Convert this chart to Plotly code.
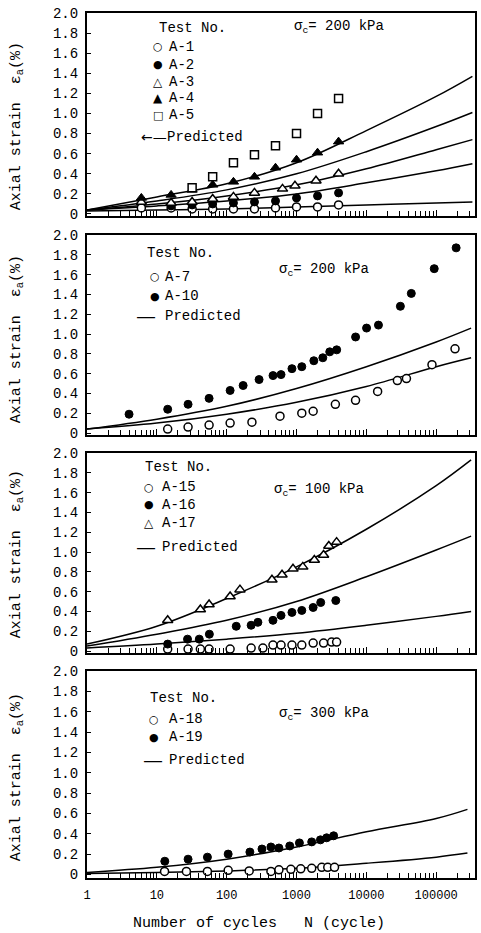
import plotly.graph_objects as go

FONT = "Liberation Mono, DejaVu Sans Mono, monospace"
GLYPH_FONT = "DejaVu Sans"
TICK_COLOR = "black"

# ---------------- data ----------------
PRED_N_A = [1, 10, 100, 1000, 10000, 100000, 330000]
PRED_N_B = [1, 10, 100, 1000, 10000, 100000, 316000]
PRED_N_D = [1, 10, 100, 1000, 10000, 100000, 280000]

a1_n = [6, 16, 32, 63, 125, 250, 500, 1000, 2000, 4000]
a1_e = [0.06, 0.06, 0.05, 0.05, 0.05, 0.05, 0.06, 0.07, 0.07, 0.09]
a2_n = [16, 32, 63, 125, 250, 500, 1000, 2000, 4000]
a2_e = [0.08, 0.09, 0.10, 0.11, 0.12, 0.13, 0.16, 0.18, 0.21]
a3_n = [6, 16, 32, 63, 125, 250, 630, 950, 1900, 4000]
a3_e = [0.12, 0.11, 0.12, 0.15, 0.17, 0.21, 0.25, 0.28, 0.33, 0.40]
a4_n = [6, 16, 32, 63, 125, 250, 500, 1000, 2000, 4000]
a4_e = [0.16, 0.19, 0.24, 0.29, 0.32, 0.37, 0.46, 0.54, 0.61, 0.72]
a5_n = [32, 63, 125, 250, 500, 1000, 2000, 4000]
a5_e = [0.26, 0.37, 0.51, 0.59, 0.68, 0.80, 1.00, 1.15]
p1_pred = [
    [0.04, 0.17, 0.30, 0.51, 0.83, 1.17, 1.37],
    [0.04, 0.13, 0.24, 0.40, 0.62, 0.87, 1.01],
    [0.04, 0.10, 0.18, 0.29, 0.45, 0.64, 0.74],
    [0.04, 0.08, 0.13, 0.20, 0.31, 0.43, 0.50],
    [0.03, 0.04, 0.05, 0.07, 0.09, 0.11, 0.12],
]

a7_n = [14.3, 28, 56, 112, 230, 580, 1190, 1730, 3600, 7000, 14500, 27800, 37500, 87000, 186000]
a7_e = [0.04, 0.06, 0.08, 0.10, 0.11, 0.17, 0.20, 0.22, 0.29, 0.33, 0.42, 0.53, 0.55, 0.69, 0.85]
a10_n = [4.0, 14.3, 28, 56, 112, 172, 291, 461, 600, 860, 1190, 1770, 2380, 2990, 3760,
         7010, 10070, 14900, 30700, 44000, 93700, 193000]
a10_e = [0.19, 0.24, 0.29, 0.35, 0.43, 0.48, 0.54, 0.58, 0.59, 0.65, 0.67, 0.73, 0.76, 0.82, 0.84,
         0.97, 1.06, 1.09, 1.28, 1.41, 1.66, 1.87]
p2_pred = [
    [0.04, 0.14, 0.27, 0.45, 0.67, 0.92, 1.06],
    [0.04, 0.10, 0.19, 0.31, 0.47, 0.67, 0.76],
]

a15_n = [14.3, 28, 42, 56, 112, 224, 330, 460, 600, 860, 1190, 1730, 2440, 3180, 3750]
a15_e = [0.02, 0.02, 0.02, 0.02, 0.02, 0.03, 0.03, 0.06, 0.06, 0.06, 0.06, 0.08, 0.08, 0.09, 0.09]
a16_n = [14.3, 27.5, 40.5, 56.5, 137, 224, 280, 460, 600, 860, 1190, 1730, 2220, 3650]
a16_e = [0.07, 0.12, 0.12, 0.17, 0.25, 0.26, 0.29, 0.31, 0.36, 0.39, 0.41, 0.44, 0.49, 0.51]
a17_n = [14.3, 42, 56, 112, 155, 445, 620, 890, 1230, 1800, 2440, 2900, 3750]
a17_e = [0.31, 0.42, 0.47, 0.55, 0.62, 0.72, 0.77, 0.83, 0.85, 0.92, 0.97, 1.06, 1.10]
p3_pred = [
    [0.07, 0.25, 0.53, 0.85, 1.23, 1.67, 1.93],
    [0.05, 0.17, 0.31, 0.50, 0.75, 1.02, 1.16],
    [0.03, 0.07, 0.12, 0.18, 0.26, 0.35, 0.40],
]

a18_n = [12.9, 26.5, 53, 105, 210, 430, 560, 830, 1150, 1650, 2300, 2800, 3500]
a18_e = [0.03, 0.03, 0.03, 0.04, 0.035, 0.03, 0.045, 0.05, 0.055, 0.06, 0.07, 0.07, 0.07]
a19_n = [13, 28, 53, 105, 215, 320, 430, 560, 800, 1100, 1650, 2200, 2700, 3400]
a19_e = [0.13, 0.15, 0.17, 0.20, 0.22, 0.25, 0.27, 0.26, 0.28, 0.31, 0.32, 0.34, 0.36, 0.38]
p4_pred = [
    [0.02, 0.07, 0.15, 0.27, 0.42, 0.55, 0.64],
    [0.01, 0.02, 0.035, 0.06, 0.11, 0.17, 0.21],
]

Y_TICKS = [0, 0.2, 0.4, 0.6, 0.8, 1.0, 1.2, 1.4, 1.6, 1.8, 2.0]
Y_TICKTEXT = ["0", "0.2", "0.4", "0.6", "0.8", "1.0", "1.2", "1.4", "1.6", "1.8", "2.0"]
X_TICKS = [1, 10, 100, 1000, 10000, 100000]
X_TICKTEXT = ["1", "10", "100", "1000", "10000", "100000"]
SIGMA_LABELS = ["200", "200", "100", "300"]

LEGENDS = [
    [("\u25cb", "A-1"), ("\u25cf", "A-2"), ("\u25b3", "A-3"), ("\u25b2", "A-4"), ("\u25a1", "A-5")],
    [("\u25cb", "A-7"), ("\u25cf", "A-10")],
    [("\u25cb", "A-15"), ("\u25cf", "A-16"), ("\u25b3", "A-17")],
    [("\u25cb", "A-18"), ("\u25cf", "A-19")],
]

W, H = 481, 933
ML, MR, MT, MB = 87, 4, 13, 55
PW = W - ML - MR
PH = H - MT - MB


def px_x(p):
    return (p - ML) / PW


def px_y(p):
    return (H - MB - p) / PH


panels_px = [(13, 216), (235, 435), (453, 653), (671, 878)]
yranges = [[-0.02, 2.0], [-0.02, 2.0], [-0.02, 2.0], [-0.035, 2.0]]

fig = go.Figure()

open_mk = dict(color="white", line=dict(color="black", width=1.5), size=8)
fill_mk = dict(color="black", line=dict(color="black", width=1), size=8)


def add_pred(panel, ns, lines):
    ax = "" if panel == 1 else str(panel)
    for vals in lines:
        fig.add_trace(go.Scatter(
            x=ns, y=vals, mode="lines", line=dict(color="black", width=1.5, shape="spline"),
            name="Predicted", showlegend=False,
            xaxis="x" + ax, yaxis="y" + ax, hoverinfo="skip"))


def add_pts(panel, ns, vals, name, symbol, filled):
    ax = "" if panel == 1 else str(panel)
    mk = dict(fill_mk if filled else open_mk)
    mk["symbol"] = symbol
    if symbol == "triangle-up":
        mk["size"] = 9
    fig.add_trace(go.Scatter(
        x=ns, y=vals, mode="markers", marker=mk, name=name, showlegend=False,
        xaxis="x" + ax, yaxis="y" + ax))


add_pred(1, PRED_N_A, p1_pred)
add_pts(1, a1_n, a1_e, "A-1", "circle", False)
add_pts(1, a2_n, a2_e, "A-2", "circle", True)
add_pts(1, a3_n, a3_e, "A-3", "triangle-up", False)
add_pts(1, a4_n, a4_e, "A-4", "triangle-up", True)
add_pts(1, a5_n, a5_e, "A-5", "square", False)
add_pred(2, PRED_N_B, p2_pred)
add_pts(2, a7_n, a7_e, "A-7", "circle", False)
add_pts(2, a10_n, a10_e, "A-10", "circle", True)
add_pred(3, PRED_N_B, p3_pred)
add_pts(3, a15_n, a15_e, "A-15", "circle", False)
add_pts(3, a16_n, a16_e, "A-16", "circle", True)
add_pts(3, a17_n, a17_e, "A-17", "triangle-up", False)
add_pred(4, PRED_N_D, p4_pred)
add_pts(4, a18_n, a18_e, "A-18", "circle", False)
add_pts(4, a19_n, a19_e, "A-19", "circle", True)

layout = dict(
    width=W, height=H, margin=dict(l=ML, r=MR, t=MT, b=MB),
    paper_bgcolor="white", plot_bgcolor="white", showlegend=False,
    font=dict(family=FONT, size=13, color="black"),
)

for i, (top, bot) in enumerate(panels_px):
    n = "" if i == 0 else str(i + 1)
    last = (i == 3)
    layout["xaxis" + n] = dict(
        type="log", range=[0, PW / 70.2], domain=[0, 1], anchor="y" + n,
        showline=True, linecolor="black", linewidth=2, mirror=True,
        ticks="inside", ticklen=6, tickwidth=1.2, tickcolor=TICK_COLOR,
        tickmode="array", tickvals=X_TICKS, ticktext=X_TICKTEXT,
        showticklabels=last, tickfont=dict(family=FONT, size=12),
        ticklabelstandoff=5,
        minor=dict(ticks="inside", ticklen=5, tickwidth=1, tickcolor=TICK_COLOR, dtick="D1"),
        showgrid=False, zeroline=False,
    )
    layout["yaxis" + n] = dict(
        range=yranges[i], domain=[px_y(bot), px_y(top)], anchor="x" + n,
        showline=True, linecolor="black", linewidth=2, mirror=True,
        ticks="inside", ticklen=4, tickwidth=1.2, tickcolor=TICK_COLOR,
        tickmode="array", tickvals=Y_TICKS, ticktext=Y_TICKTEXT,
        tickfont=dict(family=FONT, size=14), ticklabelstandoff=4,
        showgrid=False, zeroline=False,
    )

fig.update_layout(**layout)


def ann(x, y, text, size=14, family=FONT, xanchor="left", angle=0):
    fig.add_annotation(
        x=px_x(x), y=px_y(y), xref="paper", yref="paper", xanchor=xanchor, yanchor="middle",
        text=text, showarrow=False, textangle=angle,
        font=dict(family=family, size=size, color="black"))


legend_geo = [
    (157, 28, 158, 167, [47, 65, 82, 98, 115], 137, 154),
    (145, 253, 155, 163, [277, 296], 316, 146),
    (143, 467, 149, 160, [487, 505, 523], 547, 146),
    (148, 698, 154, 167, [719, 737], 760, 153),
]
for i, (tl, ty, mx, tx, rows, py, plx) in enumerate(legend_geo):
    ann(tl, ty, "Test No.")
    for (glyph, label), ry in zip(LEGENDS[i], rows):
        gsize = 12 if glyph in ("\u25b3", "\u25b2") else 11
        ann(mx, ry, glyph, size=gsize, family=GLYPH_FONT, xanchor="center")
        ann(tx, ry, label)
    key = "\u2190\u2014" if i == 0 else "\u2014"
    ann(plx, py, key, size=14 if i == 0 else 20, family=GLYPH_FONT, xanchor="center")
    ann(tx - 2 if i == 0 else tx, py, "Predicted")

sig_pos = [(293, 27), (278, 270), (273, 490), (278, 714)]
ytitle_c = [126, 339, 554, 777]
for i in range(4):
    sx, sy = sig_pos[i]
    ann(sx, sy, "\u03c3<sub>c</sub>= " + SIGMA_LABELS[i] + " kPa", size=14)
    ann(17, ytitle_c[i], "Axial strain \u00a0\u03b5<sub>a</sub>(%)", size=15,
        xanchor="center", angle=-90)

ann(260, 923, "Number of cycles\u00a0\u00a0\u00a0N (cycle)", size=15, xanchor="center")

fig.write_html("out.html")
